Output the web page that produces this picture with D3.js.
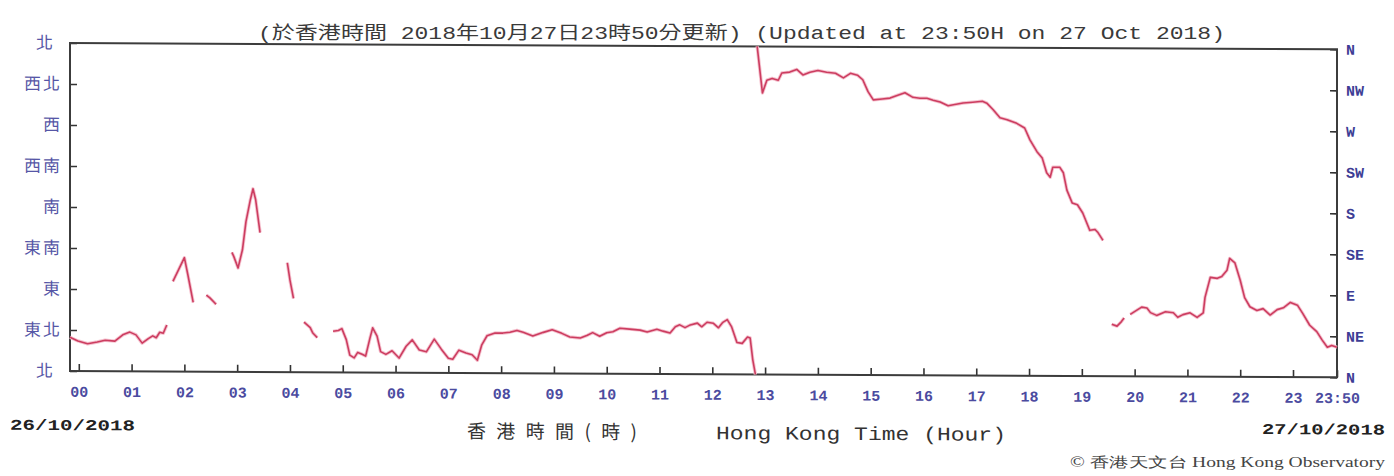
<!DOCTYPE html>
<html><head><meta charset="utf-8">
<script src="https://cdn.jsdelivr.net/npm/d3@7/dist/d3.min.js"></script>
<style>
html,body{margin:0;padding:0;background:#fff;}
svg{display:block;}
</style></head>
<body>
<svg id="chart" width="1394" height="476"></svg>
<script>
// ---- data (minutes after 00:00 HKT 27 Oct 2018, wind direction in degrees; null = no data / wrap) ----
const timeMin = [
  -10,-1,10,21,30,41,50,58,65,72,79,84,88,92,96,100,null,
  107,120,124,130,null,
  145,149,156,null,
  174,176,181,186,190,195,198,201,206,null,
  237,240,244,null,
  256,263,266,271,null,
  289,295,299,304,308,313,317,322,326,331,334,339,343,349,356,364,372,379,387,395,404,412,420,425,432,440,447,453,458,464,473,482,490,498,505,516,528,538,549,558,570,578,584,592,600,607,615,626,638,646,657,664,672,678,683,689,695,703,708,714,721,727,732,737,742,748,754,760,763,766,769,null,
  771,777,782,788,795,799,808,816,823,831,840,850,860,869,877,885,891,897,903,913,922,930,939,948,956,964,971,979,988,994,1005,1016,1027,1032,1039,1047,1055,1066,1075,1081,1089,1095,1100,1104,1107,1115,1119,1123,1129,1135,1141,1149,1155,1158,1164,null,
  1174,1180,1185,1188,null,
  1195,1203,1208,1214,1218,1225,1235,1244,1249,1255,1263,1271,1278,1280,1286,1294,1299,1305,1308,1314,1320,1325,1331,1339,1346,1354,1362,1369,1377,1385,1391,1399,1407,1413,1419,1424,1430
];
const windDir = [
  37,33,30,32,34,33,40,43,40,31,36,39,37,43,42,51,null,
  99,125,106,76,null,
  84,81,74,null,
  131,127,114,134,165,189,201,189,153,null,
  120,101,81,null,
  55,49,43,38,null,
  45,46,48,36,19,16,22,20,18,38,49,40,23,20,24,16,29,36,25,23,37,26,16,15,25,22,20,14,31,41,44,44,45,47,45,41,45,48,44,40,39,42,45,41,45,46,50,49,48,46,49,47,45,52,54,51,54,56,52,57,56,51,57,60,52,35,34,41,40,16,0,null,
  360,309,323,325,323,331,332,335,329,332,334,332,331,326,331,329,324,311,302,303,304,307,310,305,304,304,302,300,296,297,299,300,301,299,292,283,281,277,272,259,246,239,223,218,229,229,223,204,190,188,179,160,161,158,149,null,
  57,55,60,64,null,
  68,73,76,75,70,67,71,70,65,68,70,65,70,87,109,108,110,117,130,125,106,87,77,73,75,68,74,76,82,79,70,57,50,41,33,35,33
];
const dirLabelsCN = ["北","東北","東","東南","南","西南","西","西北","北"];
const dirLabelsEN = ["N","NE","E","SE","S","SW","W","NW","N"];
const dirTicks = [0,45,90,135,180,225,270,315,360];
const hourLabels = ["00","01","02","03","04","05","06","07","08","09","10","11","12","13","14","15","16","17","18","19","20","21","22","23","23:50"];
const hourTicks = [0,60,120,180,240,300,360,420,480,540,600,660,720,780,840,900,960,1020,1080,1140,1200,1260,1320,1380,1430];
const titleText = "(於香港時間 2018年10月27日23時50分更新) (Updated at 23:50H on 27 Oct 2018)";

// ---- layout ----
const L = 70, R = 1337, T = 43, B = 371;
const skew = 0.005;
const svg = d3.select("#chart");
const g = svg.append("g").attr("transform", `matrix(1,${skew},0,1,0,${-L*skew})`);

const x = d3.scaleLinear().domain([-10, 1430]).range([L, R]);
const y = d3.scaleLinear().domain([0, 360]).range([B, T]);

const blue = "#4b4ba0";
const mono = "'Liberation Mono','DejaVu Sans Mono',monospace";
const cjk = "'Noto Sans CJK TC','Noto Sans CJK SC',sans-serif";

// title
svg.append("text").attr("x", 258).attr("y", 39)
  .attr("textLength", 967).attr("lengthAdjust", "spacingAndGlyphs")
  .style("font-family", mono + "," + cjk).style("font-size", "18px").attr("fill", "#3a3a3a")
  .text(titleText);

// axes
const axB = d3.axisBottom(x).tickValues(hourTicks).tickFormat((d,i) => hourLabels[i]).tickSizeInner(-7).tickSizeOuter(0).tickPadding(15);
const axL = d3.axisLeft(y).tickValues(dirTicks).tickFormat((d,i) => dirLabelsCN[i]).tickSizeInner(-7).tickSizeOuter(0).tickPadding(8);
const axR = d3.axisRight(y).tickValues(dirTicks).tickFormat((d,i) => dirLabelsEN[i]).tickSizeInner(-7).tickSizeOuter(0).tickPadding(9);

const gb = g.append("g").attr("transform", `translate(0,${B})`).call(axB);
const gl = g.append("g").attr("transform", `translate(${L},0)`).call(axL);
const gr = g.append("g").attr("transform", `translate(${R},0)`).call(axR);
[gb, gl, gr].forEach(a => {
  a.select(".domain").remove();
  a.selectAll(".tick line").attr("stroke", "#333").attr("stroke-width", 1.6);
});
gb.selectAll(".tick text").style("font-family", mono).style("font-size", "15px").style("font-weight", "bold").attr("fill", blue);
gl.selectAll(".tick text").style("font-family", cjk).style("font-size", "17px").style("letter-spacing", "2px").attr("fill", "#5656a6");
gl.selectAll(".tick text").filter(d => d === 0 || d === 360).attr("x", -15);
gr.selectAll(".tick text").style("font-family", mono).style("font-size", "15px").style("font-weight", "bold").attr("fill", "#3d3d95");

// frame
g.append("rect").attr("x", L).attr("y", T).attr("width", R - L).attr("height", B - T)
  .attr("fill", "none").attr("stroke", "#3c3c3c").attr("stroke-width", 2);

// wind direction line
const pts = timeMin.map((t, i) => ({t: t, v: windDir[i]}));
const line = d3.line().defined(d => d.v !== null && d.t !== null).x(d => x(d.t)).y(d => y(d.v));
g.append("path").datum(pts).attr("d", line)
  .attr("fill", "none").attr("stroke", "#f5c2cf").attr("stroke-width", 3.4).attr("stroke-linejoin", "round");
g.append("path").datum(pts).attr("d", line)
  .attr("fill", "none").attr("stroke", "#cc3d60").attr("stroke-width", 1.6).attr("stroke-linejoin", "round");

// bottom texts
g.append("text").attr("x", 10).attr("y", 430).attr("textLength", 125).attr("lengthAdjust", "spacingAndGlyphs")
  .style("font-family", mono).style("font-size", "15px").style("font-weight", "bold").attr("fill", "#222").text("26/10/2018");
g.append("text").attr("x", 1262).attr("y", 428).attr("textLength", 123).attr("lengthAdjust", "spacingAndGlyphs")
  .style("font-family", mono).style("font-size", "15px").style("font-weight", "bold").attr("fill", "#222").text("27/10/2018");
g.append("text").attr("x", 467).attr("y", 436).attr("textLength", 170).attr("lengthAdjust", "spacing")
  .style("font-family", cjk).style("font-size", "19px").attr("fill", "#333").text("香港時間(時)");
g.append("text").attr("x", 716).attr("y", 436).attr("textLength", 290).attr("lengthAdjust", "spacingAndGlyphs")
  .style("font-family", mono).style("font-size", "19px").attr("fill", "#333").text("Hong Kong Time (Hour)");
svg.append("text").attr("x", 1070).attr("y", 467).attr("textLength", 315).attr("lengthAdjust", "spacingAndGlyphs")
  .style("font-family", "'Liberation Serif',serif").style("font-size", "14px").attr("fill", "#444").text("© 香港天文台 Hong Kong Observatory");
</script>
</body></html>
